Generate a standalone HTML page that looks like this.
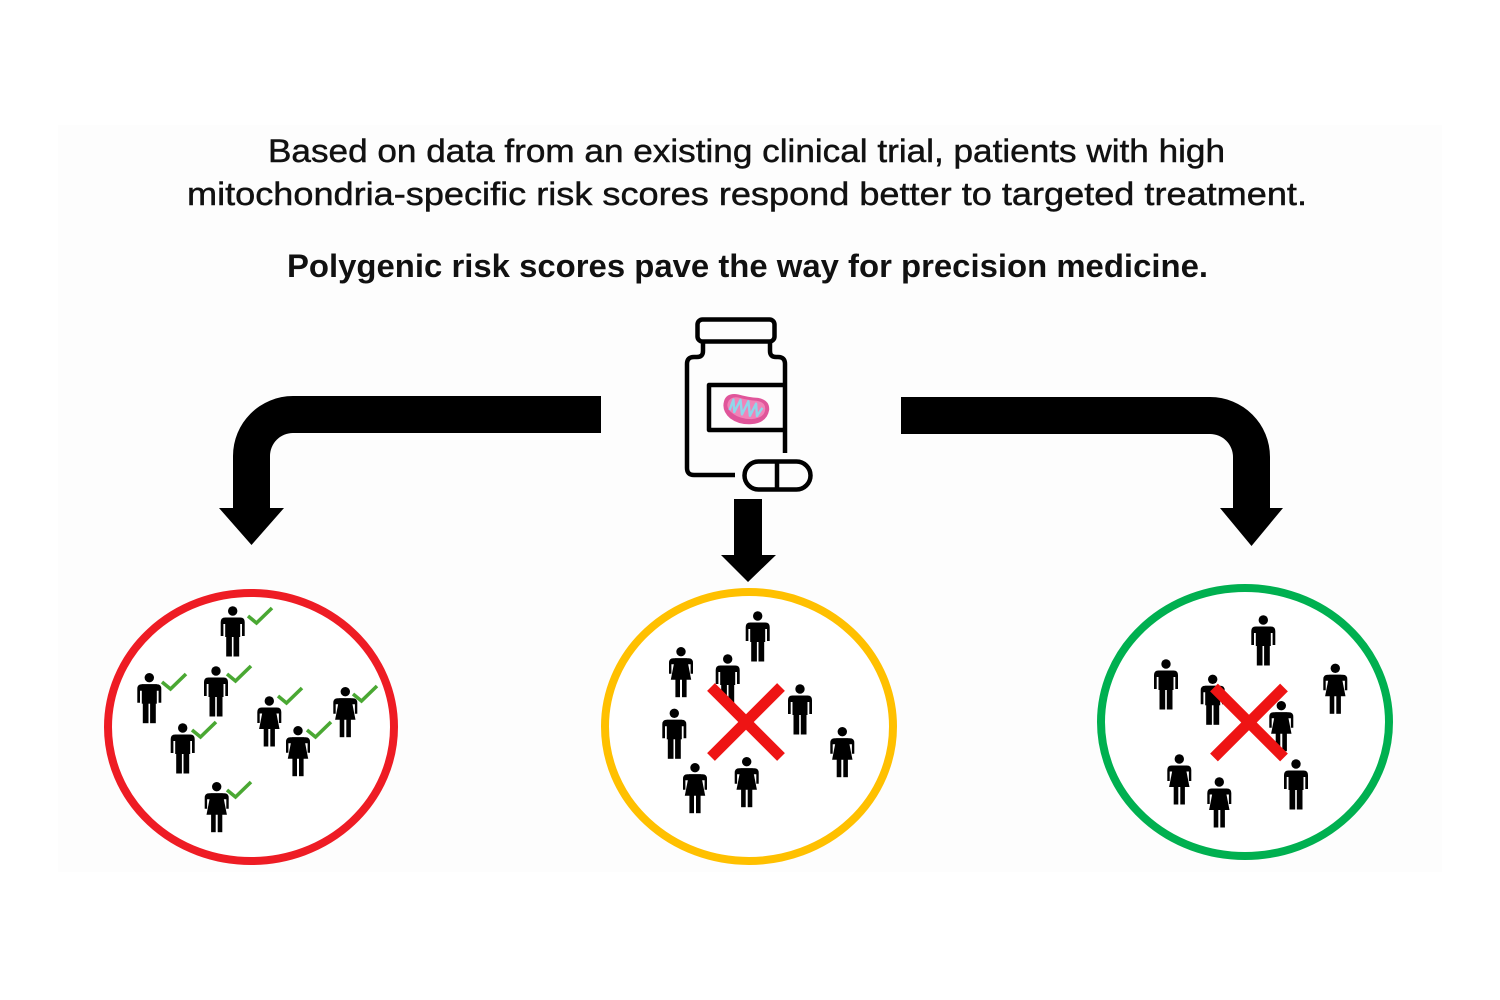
<!DOCTYPE html>
<html>
<head>
<meta charset="utf-8">
<style>
  html,body{margin:0;padding:0;background:#ffffff;}
  body{width:1500px;height:1000px;overflow:hidden;}
  svg{display:block;}
  text{font-family:"Liberation Sans",Arial,sans-serif;fill:#111;}
</style>
</head>
<body>
<svg width="1500" height="1000" viewBox="0 0 1500 1000" xmlns="http://www.w3.org/2000/svg">
  <defs>
    <g id="man">
      <circle cx="0" cy="0" r="4.7" fill="#000"/>
      <path d="M-12,25 V11 Q-12,6.5 -7.5,6.5 H7.5 Q12,6.5 12,11 V25 H9.3 V13 H-9.3 V25 Z" fill="#000"/>
      <rect x="-7.5" y="6.5" width="15" height="19.5" fill="#000"/>
      <rect x="-6.5" y="25" width="5.7" height="20.5" fill="#000"/>
      <rect x="0.8" y="25" width="5.7" height="20.5" fill="#000"/>
    </g>
    <g id="woman">
      <circle cx="0" cy="0" r="4.7" fill="#000"/>
      <path d="M-12,22 V11 Q-12,6.5 -7.5,6.5 H7.5 Q12,6.5 12,11 V22 H9.6 V12.5 H-9.6 V22 Z" fill="#000"/>
      <path d="M-6,6.5 H6 L10.2,28 H-10.2 Z" fill="#000"/>
      <rect x="-5.6" y="27" width="4.6" height="18.5" fill="#000"/>
      <rect x="1" y="27" width="4.6" height="18.5" fill="#000"/>
    </g>
    <polyline id="chk" points="0,8 8.5,15 24,0" fill="none" stroke="#4aa833" stroke-width="3.6" stroke-linecap="butt" stroke-linejoin="miter"/>
    <g id="xmark">
      <rect x="-49.5" y="-5.5" width="99" height="11" fill="#ee1414" transform="rotate(45)"/>
      <rect x="-49.5" y="-5.5" width="99" height="11" fill="#ee1414" transform="rotate(-45)"/>
    </g>
  </defs>

  <!-- faint background panel -->
  <rect x="58" y="125" width="1384" height="747" fill="#fdfdfd"/>

  <!-- Text -->
  <text x="268" y="162" font-size="32" textLength="957" lengthAdjust="spacingAndGlyphs" stroke="#111" stroke-width="0.45">Based on data from an existing clinical trial, patients with high</text>
  <text x="187" y="205" font-size="32" textLength="1120" lengthAdjust="spacingAndGlyphs" stroke="#111" stroke-width="0.45">mitochondria-specific risk scores respond better to targeted treatment.</text>
  <text x="287" y="277" font-size="32.5" font-weight="bold" textLength="921" lengthAdjust="spacingAndGlyphs">Polygenic risk scores pave the way for precision medicine.</text>

  <!-- Arrows -->
  <path d="M601,396 H293 A60,60 0 0 0 233,456 V508 H219 L251.5,545 L284,508 H270 V456 A23,23 0 0 1 293,433 H601 Z" fill="#000"/>
  <path d="M901,397 H1210 A60,60 0 0 1 1270,457 V508 H1283 L1251.5,546 L1220,508 H1233 V457 A23,23 0 0 0 1210,434 H901 Z" fill="#000"/>
  <path d="M734,499 H762 V555 H776 L748,582 L721,555 H734 Z" fill="#000"/>

  <!-- Pill bottle -->
  <g fill="none" stroke="#000" stroke-width="4.5" stroke-linejoin="round">
    <rect x="697.5" y="319.5" width="77" height="22" rx="5"/>
    <path d="M703,342 V351 Q703,357 697,357 H694 Q687,357 687,364 V468 Q687,475 694,475 H735"/>
    <path d="M770,342 V351 Q770,357 776,357 H778 Q785,357 785,364 V453"/>
    <path d="M785,385 H709 V430 H785"/>
    <rect x="744.5" y="461.5" width="66" height="28" rx="14"/>
    <line x1="777" y1="461.5" x2="777" y2="489.5"/>
  </g>
  <!-- mitochondrion -->
  <g transform="translate(746,409) rotate(10)">
    <path d="M-23,-4 Q-22,-13 -10,-13 Q0,-12 10,-13 Q22,-13 23,-3 Q23,10 8,14 Q-4,17 -14,12 Q-24,6 -23,-4 Z" fill="#e0559a"/>
    <path d="M-19,-3 Q-18,-10 -9,-10 Q0,-9 9,-10 Q19,-10 19,-2 Q19,6 7,9 Q-4,11 -12,7 Q-20,3 -19,-3 Z" fill="#f183b8"/>
    <polyline points="-16,4 -14,-7 -11,5 -7,-8 -3,6 1,-8 5,6 9,-7 12,5 16,-4" fill="none" stroke="#8fd6ea" stroke-width="2.4" stroke-linejoin="round"/>
  </g>

  <!-- Circles -->
  <ellipse cx="251" cy="727" rx="143" ry="134" fill="#fff" stroke="#ee1c24" stroke-width="8"/>
  <ellipse cx="749" cy="726.5" rx="144" ry="134.5" fill="#fff" stroke="#ffc000" stroke-width="8"/>
  <ellipse cx="1245" cy="722" rx="144" ry="134" fill="#fff" stroke="#00b050" stroke-width="8"/>

  <!-- Left circle people -->
  <use href="#man" transform="translate(232.7,611)"/>
  <use href="#man" transform="translate(149.3,677.7)"/>
  <use href="#man" transform="translate(216,671)"/>
  <use href="#man" transform="translate(182.7,728)"/>
  <use href="#woman" transform="translate(269.3,701)"/>
  <use href="#woman" transform="translate(345.3,691.7)"/>
  <use href="#woman" transform="translate(298,730.7)"/>
  <use href="#woman" transform="translate(216.7,786.7)"/>
  <use href="#chk" transform="translate(248,608)"/>
  <use href="#chk" transform="translate(162,674)"/>
  <use href="#chk" transform="translate(227,666)"/>
  <use href="#chk" transform="translate(192,722)"/>
  <use href="#chk" transform="translate(278,688)"/>
  <use href="#chk" transform="translate(353,686)"/>
  <use href="#chk" transform="translate(307,722)"/>
  <use href="#chk" transform="translate(227,782)"/>

  <!-- Middle circle people -->
  <use href="#man" transform="translate(757.7,616)"/>
  <use href="#woman" transform="translate(681,651.7)"/>
  <use href="#man" transform="translate(727.7,659)"/>
  <use href="#man" transform="translate(800,689)"/>
  <use href="#man" transform="translate(674.3,713.3)"/>
  <use href="#woman" transform="translate(842.3,731.7)"/>
  <use href="#woman" transform="translate(695,767.7)"/>
  <use href="#woman" transform="translate(746.7,761.7)"/>
  <use href="#xmark" transform="translate(746,722)"/>

  <!-- Right circle people -->
  <use href="#man" transform="translate(1263.3,620)"/>
  <use href="#man" transform="translate(1166,664)"/>
  <use href="#woman" transform="translate(1335.3,668.3)"/>
  <use href="#man" transform="translate(1212.7,679.3)"/>
  <use href="#woman" transform="translate(1281.3,705.7)"/>
  <use href="#woman" transform="translate(1179.3,759)"/>
  <use href="#man" transform="translate(1296,764)"/>
  <use href="#woman" transform="translate(1219.3,782)"/>
  <use href="#xmark" transform="translate(1249,722.5)"/>
</svg>
</body>
</html>
